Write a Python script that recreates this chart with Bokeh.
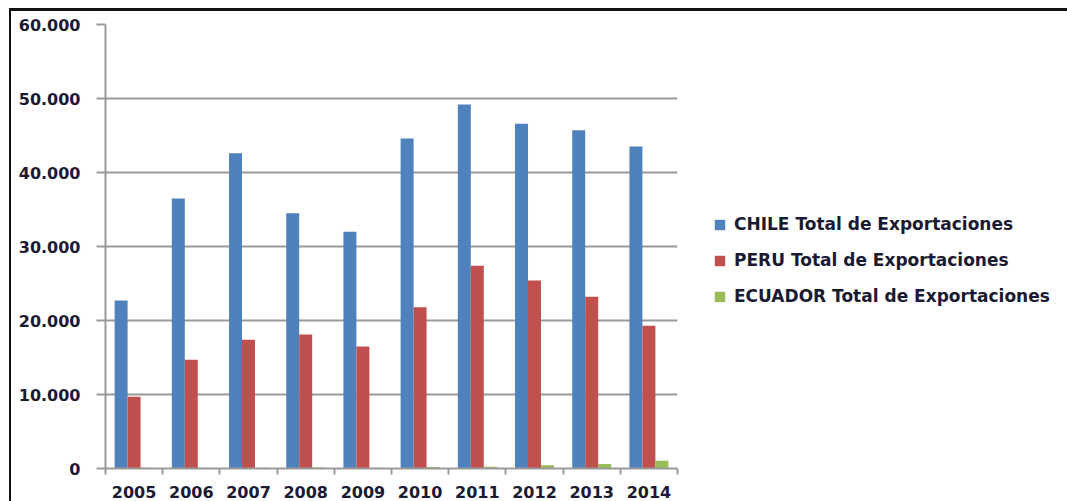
from bokeh.plotting import figure
from bokeh.models import Range1d, FixedTicker, Legend, LegendItem, ColumnDataSource
from bokeh.embed import file_html
from bokeh.resources import INLINE

years = ["2005", "2006", "2007", "2008", "2009", "2010", "2011", "2012", "2013", "2014"]
chile = [22700, 36500, 42600, 34500, 32000, 44600, 49200, 46600, 45700, 43500]
peru = [9700, 14700, 17400, 18100, 16500, 21800, 27400, 25400, 23200, 19300]
ecuador = [100, 100, 100, 150, 100, 200, 250, 450, 600, 1050]
y_ticks = [0, 10000, 20000, 30000, 40000, 50000, 60000]
y_labels = ["0", "10.000", "20.000", "30.000", "40.000", "50.000", "60.000"]
series_names = ["CHILE Total de Exportaciones", "PERU Total de Exportaciones", "ECUADOR Total de Exportaciones"]
colors = ["#4F81BD", "#C0504D", "#9BBB59"]

p = figure(frame_width=572, frame_height=444, output_backend="svg", toolbar_location=None,
           x_range=Range1d(-0.5, len(years) - 0.5), y_range=Range1d(0, 60000),
           min_border_left=94, min_border_top=13, min_border_right=0, min_border_bottom=33)
p.styles = {"border-top": "3px solid #111", "border-left": "2px solid #111",
            "margin-left": "9px", "margin-top": "8px", "margin-bottom": "-12px"}
p.outline_line_color = None
p.background_fill_color = "white"
p.border_fill_color = "white"

xs = list(range(len(years)))
bw = 0.227
renderers = []
for i, (vals, col) in enumerate(zip([chile, peru, ecuador], colors)):
    src = ColumnDataSource(dict(x=[x + (i - 1) * bw for x in xs], top=vals))
    r = p.vbar(x="x", top="top", width=bw, bottom=0, source=src, fill_color=col, line_color=None)
    renderers.append(r)

txt_color = "#1a1a33"
font = "DejaVu Sans"

# y axis
p.yaxis.ticker = FixedTicker(ticks=y_ticks)
p.yaxis.major_label_overrides = {t: l for t, l in zip(y_ticks, y_labels)}
p.yaxis.major_tick_out = 9
p.yaxis.major_tick_in = 0
p.yaxis.minor_tick_line_color = None
p.yaxis.major_label_standoff = 16
p.yaxis.axis_line_color = "#9a9a9a"
p.yaxis.axis_line_width = 2
p.yaxis.major_tick_line_color = "#9a9a9a"
p.yaxis.major_tick_line_width = 2
p.yaxis.major_label_text_font = font
p.yaxis.major_label_text_font_style = "bold"
p.yaxis.major_label_text_font_size = "16px"
p.yaxis.major_label_text_color = txt_color

# x axis
p.xaxis.ticker = FixedTicker(ticks=xs, minor_ticks=[x - 0.5 for x in xs] + [len(xs) - 0.5])
p.xaxis.major_label_overrides = {x: y for x, y in zip(xs, years)}
p.xaxis.major_tick_out = 0
p.xaxis.major_tick_in = 0
p.xaxis.major_tick_line_color = None
p.xaxis.minor_tick_out = 6
p.xaxis.minor_tick_in = 0
p.xaxis.minor_tick_line_color = "#9a9a9a"
p.xaxis.minor_tick_line_width = 2
p.xaxis.axis_line_color = "#9a9a9a"
p.xaxis.axis_line_width = 2
p.xaxis.major_label_standoff = 11
p.xaxis.major_label_text_font = font
p.xaxis.major_label_text_font_style = "bold"
p.xaxis.major_label_text_font_size = "16px"
p.xaxis.major_label_text_color = txt_color

p.xgrid.grid_line_color = None
p.ygrid.ticker = FixedTicker(ticks=y_ticks)
p.ygrid.grid_line_color = "#9a9a9a"
p.ygrid.grid_line_width = 2

legend = Legend(items=[LegendItem(label=n, renderers=[r]) for n, r in zip(series_names, renderers)],
                location=(36, 162), orientation="vertical")
legend.border_line_color = None
legend.background_fill_alpha = 0
legend.padding = 0
legend.margin = 0
legend.glyph_width = 13
legend.glyph_height = 13
legend.label_standoff = 8
legend.label_height = 20
legend.spacing = 16
legend.label_text_font = font
legend.label_text_font_style = "bold"
legend.label_text_font_size = "17px"
legend.label_text_color = txt_color
p.add_layout(legend, "right")

open("out.html", "w").write(file_html(p, INLINE))
